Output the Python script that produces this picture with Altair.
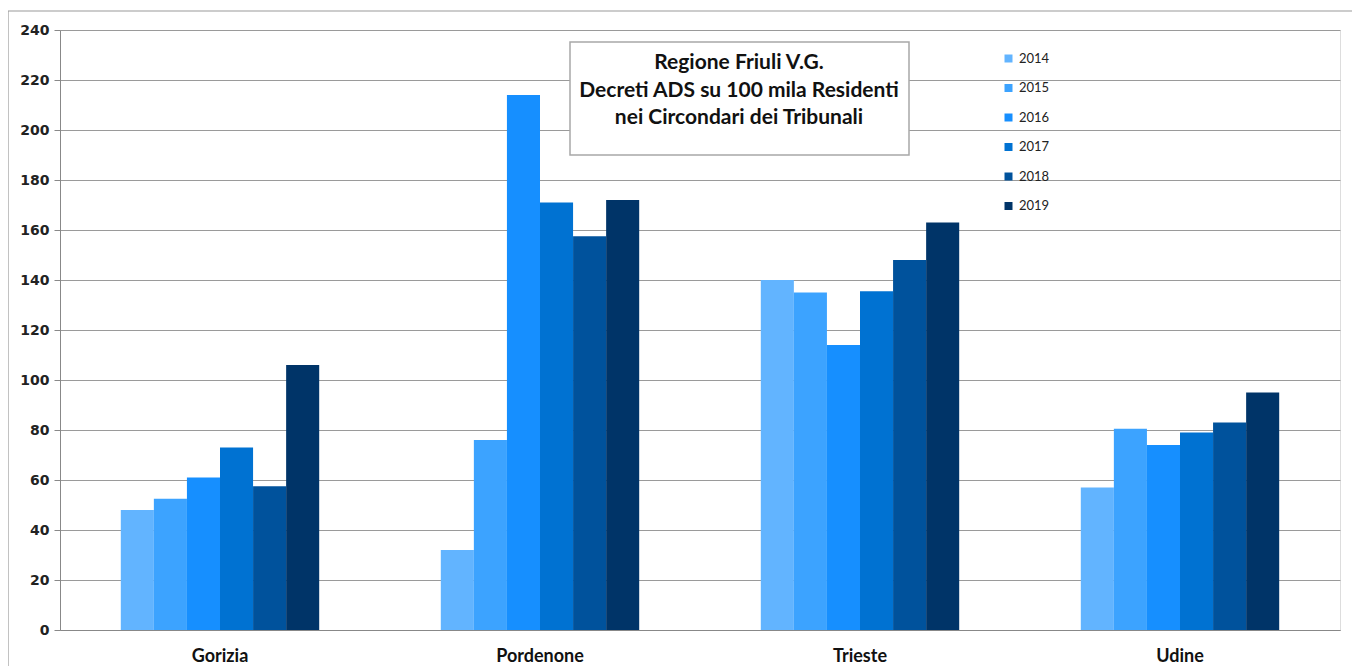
import altair as alt
import pandas as pd

circondari = ["Gorizia", "Pordenone", "Trieste", "Udine"]
anni = ["2014", "2015", "2016", "2017", "2018", "2019"]
v2014 = [48, 32, 140, 57]
v2015 = [52.5, 76, 135, 80.5]
v2016 = [61, 214, 114, 74]
v2017 = [73, 171, 135.5, 79]
v2018 = [57.5, 157.5, 148, 83]
v2019 = [106, 172, 163, 95]
colori = ["#62b4ff", "#3ca3ff", "#168fff", "#0072d2", "#00529c", "#003468"]
titolo = ["Regione Friuli V.G.", "Decreti ADS su 100 mila Residenti", "nei Circondari dei Tribunali"]

series = [v2014, v2015, v2016, v2017, v2018, v2019]
rows = []
for a, vals in zip(anni, series):
    for c, v in zip(circondari, vals):
        rows.append({"Circondario": c, "Anno": a, "Valore": v})
df = pd.DataFrame(rows)

FONT = "Lato"

frame = alt.Chart(pd.DataFrame({"a": [0]})).mark_rect(
    fillOpacity=0, stroke="#9a9a9a", strokeWidth=1.2
).encode(x=alt.value(-52), x2=alt.value(1293), y=alt.value(-19), y2=alt.value(660))

bars = alt.Chart(df).mark_bar().encode(
    x=alt.X("Circondario:N", sort=circondari, title=None,
            scale=alt.Scale(paddingInner=0.38, paddingOuter=0.19),
            axis=alt.Axis(labelAngle=0, labelFontWeight="bold", labelFontSize=18,
                          labelColor="#111", labelPadding=17, ticks=False,
                          domainColor="#888", labelFont=FONT)),
    xOffset=alt.XOffset("Anno:N", sort=anni),
    y=alt.Y("Valore:Q", title=None,
            scale=alt.Scale(domain=[0, 240]),
            axis=alt.Axis(values=list(range(0, 241, 20)), labelFontWeight="bold",
                          labelFontSize=14, labelColor="#222", labelFont="DejaVu Sans",
                          tickColor="#888", tickSize=6, labelPadding=5,
                          domainColor="#888", gridColor="#9a9a9a", gridWidth=1)),
    color=alt.Color("Anno:N", sort=anni, title=None,
                    scale=alt.Scale(domain=anni, range=colori),
                    legend=alt.Legend(orient="none", legendX=942, legendY=22,
                                      symbolType="square", symbolSize=64,
                                      symbolStrokeWidth=0, labelFontSize=13,
                                      labelFont=FONT, labelColor="#222",
                                      rowPadding=15.5, labelOffset=4)),
)

tdf = pd.DataFrame({"t": titolo, "i": [0, 1, 2]})

box = alt.Chart(pd.DataFrame({"a": [0]})).mark_rect(
    fill="white", stroke="#a8a8a8", strokeWidth=1.5
).encode(x=alt.value(510), x2=alt.value(849), y=alt.value(12), y2=alt.value(125))

title_text = alt.Chart(tdf).mark_text(
    font=FONT, fontSize=21, fontWeight="bold", color="#111", align="center", baseline="middle"
).encode(
    x=alt.value(679),
    y=alt.Y("i:Q", scale=alt.Scale(domain=[0, 2], range=[33, 88]), axis=None),
    text="t:N",
)

chart = alt.layer(frame, bars, box, title_text).resolve_scale(y="independent").properties(
    width=1280, height=600,
    autosize=alt.AutoSizeParams(type="none"),
    padding={"left": 52, "top": 22, "right": 12, "bottom": 36},
).configure_view(stroke=None).configure(background="white")

chart.save("out.html", embed_options={"renderer": "svg", "actions": False})
